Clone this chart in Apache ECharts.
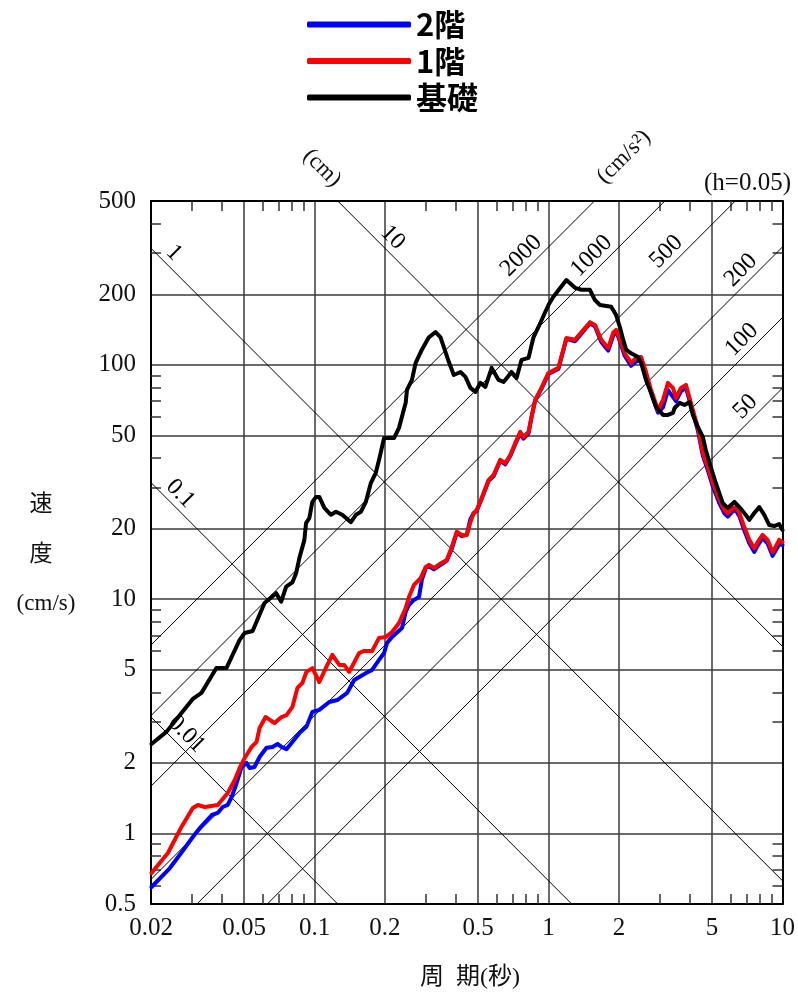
<!DOCTYPE html>
<html><head><meta charset="utf-8">
<script src="https://cdn.jsdelivr.net/npm/echarts@6/dist/echarts.min.js"></script>
<style>html,body{margin:0;padding:0;background:#fff}#c{width:798px;height:999px}</style>
</head><body><div id="c"></div>
<script>
// ---- axis ticks ----
const periodTicks = [0.02,0.05,0.1,0.2,0.5,1,2,5,10];
const periodMinorTicks = [0.03,0.04,0.06,0.07,0.08,0.09,0.3,0.4,0.6,0.7,0.8,0.9,3,4,6,7,8,9];
const velocityTicks = [0.5,1,2,5,10,20,50,100,200,500];
const velocityMinorTicks = [0.6,0.7,0.8,0.9,3,4,6,7,8,9,30,40,60,70,80,90,300,400];

// ---- tripartite reference lines ----
const dispLines = [0.01,0.1,1,10];            // displacement (cm)
const dispLabels = ['0.01','0.1','1','10'];
const dispLabelPeriods = [0.0259,0.0244,0.0229,0.197];
const accLines = [50,100,200,500,1000,2000];  // acceleration (cm/s2)
const accLabels = ['50','100','200','500','1000','2000'];
const accLabelPeriods = [7.60,7.34,7.27,3.485,1.671,0.837];

// ---- series: 基礎 ----
const periodsBase = [0.0201,0.02333,0.02657,0.03018,0.03287,0.03807,0.04201,0.04785,0.05028,0.05437,0.06113,0.06858,0.07203,0.07564,0.08045,0.08341,0.08616,0.09049,0.0920,0.09504,0.09786,0.1015,0.1048,0.1101,0.1175,0.1234,0.1313,0.1430,0.1502,0.1578,0.1657,0.1740,0.1827,0.1887,0.1982,0.2186,0.2296,0.2452,0.2483,0.2608,0.2705,0.2876,0.3081,0.3290,0.3455,0.3569,0.3748,0.3937,0.4204,0.4416,0.4637,0.4870,0.5114,0.5372,0.5714,0.6118,0.6427,0.6952,0.7302,0.7670,0.8214,0.8623,0.9058,0.999,1.049,1.192,1.298,1.381,1.503,1.579,1.659,1.853,1.945,2.018,2.084,2.146,2.254,2.413,2.486,2.610,2.742,2.880,3.085,3.240,3.402,3.459,3.633,3.815,4.007,4.139,4.347,4.565,4.701,4.938,5.186,5.555,5.834,6.228,6.541,6.957,7.215,7.576,7.958,8.357,8.779,9.220,9.680,10];
const velBase = [2.41,2.72,3.20,3.75,3.98,5.08,5.08,6.70,7.17,7.31,9.63,10.6,9.75,11.3,11.8,12.9,15.0,17.9,21.1,22.2,26.0,27.3,27.3,24.5,22.9,23.6,22.9,21.3,22.9,23.6,26.0,31.3,34.6,39.3,48.7,48.7,53.8,68.8,78.1,86.2,102,116,131,138,131,119,103,90.5,93.2,88.8,79.7,76.6,83.7,80.5,97.0,86.2,84.5,93.2,87.9,105,107,131,145,180,195,230,213,209,209,189,180,177,163,145,128,116,112,108,102,86.2,75.9,66.1,61.1,61.1,62.3,65.4,68.8,67.4,69.4,61.1,54.3,49.2,43.3,36.6,31.3,25.7,24.5,26.0,24.7,22.9,21.8,23.3,24.7,22.9,20.7,20.5,20.9,19.7];

// ---- series: 1階 ----
const periods1F = [0.0201,0.02362,0.02702,0.03018,0.03171,0.03397,0.03856,0.04254,0.04557,0.04785,0.05028,0.05383,0.05652,0.05821,0.06174,0.06744,0.07224,0.07586,0.08045,0.08449,0.08873,0.09229,0.09786,0.1048,0.1122,0.1191,0.1276,0.1339,0.1406,0.1551,0.1629,0.1762,0.1887,0.2021,0.2144,0.2296,0.2452,0.2532,0.2659,0.2840,0.2983,0.3081,0.3236,0.3500,0.3675,0.3860,0.4055,0.4258,0.4472,0.4637,0.4790,0.4932,0.5180,0.5548,0.5827,0.6220,0.6534,0.6863,0.7208,0.7571,0.7819,0.8214,0.8455,0.8768,0.9328,0.999,1.102,1.192,1.298,1.503,1.579,1.680,1.799,1.889,1.945,2.018,2.119,2.254,2.366,2.486,2.610,2.742,2.937,3.085,3.240,3.402,3.504,3.680,3.865,4.059,4.347,4.565,4.794,5.035,5.377,5.647,5.834,6.126,6.308,6.541,6.869,7.215,7.576,7.825,8.217,8.632,9.067,9.335,9.680,10];
const vel1F = [0.678,0.825,1.069,1.284,1.323,1.297,1.323,1.488,1.691,1.903,2.10,2.34,2.46,2.82,3.14,2.96,3.14,3.20,3.47,4.18,4.39,4.89,5.08,4.43,5.13,5.78,5.24,5.24,4.89,5.89,6.01,6.01,6.83,6.90,7.24,7.91,9.17,10.2,11.5,12.3,13.7,14.0,13.6,14.3,14.7,16.7,19.4,18.8,18.8,21.3,23.3,24.0,27.0,32.3,33.9,39.3,38.1,41.2,46.4,51.7,49.2,51.7,59.9,70.8,79.7,92.3,97.0,130,128,152,148,128,118,137,141,128,112,102,107,108,93.2,78.1,64.2,70.8,83.7,79.7,72.2,79.7,82.1,68.8,53.8,42.1,36.6,31.3,26.5,24.0,23.3,24.5,24.7,23.3,20.3,17.9,16.5,17.5,18.8,17.9,15.9,16.7,17.9,17.5];

// ---- series: 2階 ----
const periods2F = [0.0201,0.02409,0.0271,0.03018,0.03233,0.03636,0.03856,0.04050,0.04254,0.04424,0.04646,0.04880,0.05125,0.05278,0.05542,0.05821,0.06233,0.06613,0.06943,0.07224,0.07586,0.08616,0.09229,0.09786,0.1048,0.1156,0.1251,0.1379,0.1477,0.1661,0.1762,0.1887,0.1982,0.2041,0.2144,0.2365,0.2452,0.2532,0.2659,0.2794,0.2876,0.2992,0.3081,0.3236,0.3500,0.3675,0.3860,0.4055,0.4258,0.4472,0.4637,0.4790,0.4932,0.5180,0.5548,0.5827,0.6220,0.6534,0.6863,0.7208,0.7571,0.7819,0.8214,0.8455,0.8768,0.9328,0.999,1.102,1.192,1.298,1.503,1.579,1.680,1.799,1.889,1.945,2.018,2.119,2.254,2.366,2.486,2.610,2.742,2.937,3.085,3.240,3.402,3.504,3.680,3.865,4.059,4.347,4.565,4.794,5.035,5.377,5.647,5.834,6.126,6.308,6.541,6.869,7.215,7.576,7.825,8.217,8.632,9.067,9.335,9.680,10];
const vel2F = [0.591,0.712,0.834,0.966,1.055,1.199,1.223,1.297,1.323,1.431,1.642,1.922,2.00,1.903,1.922,2.12,2.32,2.34,2.41,2.34,2.29,2.68,2.85,3.30,3.37,3.64,3.71,3.98,4.52,4.84,4.99,5.50,5.89,6.50,6.90,7.53,8.82,9.44,9.92,10.2,12.1,13.6,13.8,13.4,14.1,14.6,16.4,19.2,18.6,18.8,22.0,23.3,23.8,26.8,32.0,33.5,39.0,37.6,40.8,45.8,51.0,48.4,51.0,59.5,70.4,79.0,91.5,96.0,129,126,150,146,125,115,133,139,126,109,99,103,106,91,76,62.5,66,78,73,70,77,80,67,52.5,41.0,35.5,30.3,25.6,23.2,22.5,23.7,24.0,22.6,19.6,17.3,15.9,16.9,18.2,17.3,15.3,16.1,17.2,17.0];

const seriesNames = ['2階','1階','基礎'];
const seriesColors = ['#0000ff','#ff0000','#000000'];

// ---------------------------------------------------------------
const TWO_PI = 2 * Math.PI;
const T_MIN = periodTicks[0], T_MAX = periodTicks[periodTicks.length - 1];
const V_MIN = velocityTicks[0], V_MAX = velocityTicks[velocityTicks.length - 1];
const zip = (a, b) => a.slice(0, Math.min(a.length, b.length)).map((v, i) => [v, b[i]]);
const fmt = v => String(parseFloat(Number(v).toPrecision(6)));
const SERIF = '"Liberation Serif","DejaVu Serif",serif';
const CJK = '"Liberation Serif","Noto Sans CJK JP",sans-serif';

const dispV = (D, T) => TWO_PI * D / T;
const accV = (A, T) => A * T / TWO_PI;

const refLineStyle = { color: '#000', width: 1 };
const refSeries = [];
dispLines.forEach(D => refSeries.push({
  type: 'line', silent: true, symbol: 'none', z: 1, clip: true,
  lineStyle: refLineStyle,
  data: [[T_MIN, dispV(D, T_MIN)], [T_MAX, dispV(D, T_MAX)]]
}));
accLines.forEach(A => refSeries.push({
  type: 'line', silent: true, symbol: 'none', z: 1, clip: true,
  lineStyle: refLineStyle,
  data: [[T_MIN, accV(A, T_MIN)], [T_MAX, accV(A, T_MAX)]]
}));

const labelItems = [];
dispLines.forEach((D, i) => labelItems.push({
  value: [dispLabelPeriods[i], dispV(D, dispLabelPeriods[i])],
  label: { formatter: dispLabels[i], rotate: -45 }
}));
accLines.forEach((A, i) => labelItems.push({
  value: [accLabelPeriods[i], accV(A, accLabelPeriods[i])],
  label: { formatter: accLabels[i], rotate: 45 }
}));

const labelSeries = {
  type: 'scatter', silent: true, symbolSize: 1, z: 2,
  itemStyle: { color: 'rgba(0,0,0,0)' },
  label: {
    show: true, position: 'inside', align: 'center', verticalAlign: 'bottom',
    offset: [0, -1], fontFamily: SERIF, fontSize: 24, color: '#000',
    textBorderWidth: 0, opacity: 1
  },
  data: labelItems
};

const dataSeries = [
  [periods2F, vel2F], [periods1F, vel1F], [periodsBase, velBase]
].map((pv, i) => ({
  name: seriesNames[i], type: 'line', symbol: 'none', z: 3 + i,
  lineStyle: { color: seriesColors[i], width: 4, cap: 'round', join: 'round' },
  itemStyle: { color: seriesColors[i] },
  data: zip(pv[0], pv[1])
}));

const frameLine = { show: true, lineStyle: { color: '#000', width: 2 } };
const minorTick = vals => ({ show: true, inside: true, length: 10, customValues: vals, lineStyle: { color: '#333', width: 1.5 } });
const gridSplit = { show: true, lineStyle: { color: '#3a3a3a', width: 1.5 } };

const xBase = { type: 'log', logBase: 10, min: T_MIN, max: T_MAX, gridIndex: 0 };
const yBase = { type: 'log', logBase: 10, min: V_MIN, max: V_MAX, gridIndex: 0 };

const option = {
  animation: false,
  backgroundColor: '#fff',
  grid: { left: 151, right: 13, top: 201, bottom: 95, containLabel: false },
  legend: {
    data: seriesNames, orient: 'vertical', left: 307, top: 8, padding: 0,
    icon: 'roundRect', itemWidth: 104, itemHeight: 6, itemGap: 3.5,
    textStyle: { fontFamily: '"Noto Sans CJK JP",sans-serif', fontSize: 31, fontWeight: 'bold', color: '#000', lineHeight: 33 }
  },
  xAxis: [
    Object.assign({}, xBase, {
      position: 'bottom', axisLine: frameLine, axisTick: minorTick(periodMinorTicks),
      axisLabel: { show: true, customValues: periodTicks, formatter: fmt, fontFamily: SERIF, fontSize: 25, color: '#111', margin: 12 },
      splitLine: { show: false }
    }),
    Object.assign({}, xBase, {
      position: 'top', axisLine: frameLine, axisTick: minorTick(periodMinorTicks),
      axisLabel: { show: false }, splitLine: { show: false }
    }),
    Object.assign({}, xBase, {
      position: 'bottom', axisLine: { show: false },
      axisTick: { show: false, customValues: periodTicks },
      axisLabel: { show: false }, splitLine: gridSplit
    })
  ],
  yAxis: [
    Object.assign({}, yBase, {
      position: 'left', axisLine: frameLine, axisTick: minorTick(velocityMinorTicks),
      axisLabel: { show: true, customValues: velocityTicks, formatter: fmt, fontFamily: SERIF, fontSize: 25, color: '#111', margin: 15 },
      splitLine: { show: false }
    }),
    Object.assign({}, yBase, {
      position: 'right', axisLine: frameLine, axisTick: minorTick(velocityMinorTicks),
      axisLabel: { show: false }, splitLine: { show: false }
    }),
    Object.assign({}, yBase, {
      position: 'left', axisLine: { show: false },
      axisTick: { show: false, customValues: velocityTicks },
      axisLabel: { show: false }, splitLine: gridSplit
    })
  ],
  graphic: [
    { type: 'text', x: 791, y: 183, style: { text: '(h=0.05)', font: '25px ' + SERIF, fill: '#111', align: 'right', verticalAlign: 'middle' } },
    { type: 'text', x: 322, y: 168, rotation: -Math.PI / 4, style: { text: '(cm)', font: '23px ' + SERIF, fill: '#111', align: 'center', verticalAlign: 'middle' } },
    { type: 'text', x: 624, y: 157, rotation: Math.PI / 4, style: { text: '(cm/s²)', font: '23px ' + SERIF, fill: '#111', align: 'center', verticalAlign: 'middle' } },
    { type: 'text', x: 41, y: 505, style: { text: '速', font: '23px ' + CJK, fill: '#111', align: 'center', verticalAlign: 'middle' } },
    { type: 'text', x: 41, y: 555, style: { text: '度', font: '23px ' + CJK, fill: '#111', align: 'center', verticalAlign: 'middle' } },
    { type: 'text', x: 46, y: 604, style: { text: '(cm/s)', font: '23px ' + SERIF, fill: '#111', align: 'center', verticalAlign: 'middle' } },
    { type: 'text', x: 470, y: 978, style: { text: '周  期(秒)', font: '24px ' + CJK, fill: '#111', align: 'center', verticalAlign: 'middle' } }
  ],
  series: refSeries.concat([labelSeries], dataSeries)
};

const chart = echarts.init(document.getElementById('c'), null, { renderer: 'canvas' });
chart.setOption(option);
</script>
</body></html>
